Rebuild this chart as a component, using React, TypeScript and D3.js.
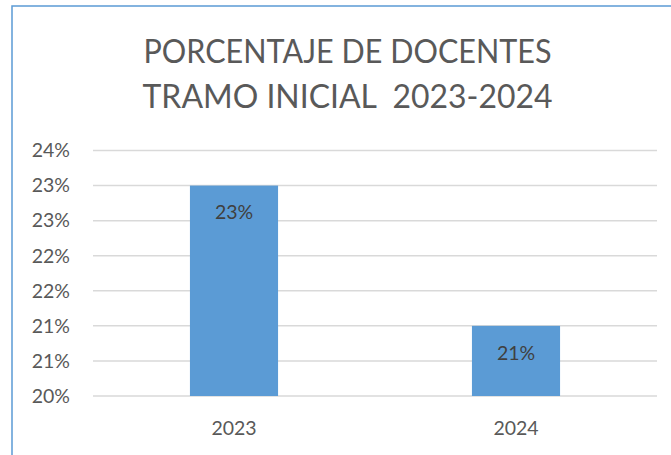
import React from "react";
import * as d3 from "d3";

const categories = ["2023", "2024"];
const values = [0.23, 0.21];
const dataLabels = ["23%", "21%"];
const tickValues = [0.2, 0.205, 0.21, 0.215, 0.22, 0.225, 0.23, 0.235];
const tickLabels = ["20%", "21%", "21%", "22%", "22%", "23%", "23%", "24%"];
const titleLines = ["PORCENTAJE DE DOCENTES", "TRAMO INICIAL  2023-2024"];
const titleWidths = [408, 410];

const W = 671;
const H = 455;
const plot = { left: 93, right: 657, top: 150.5, bottom: 396 };
const FONT = "Lato, 'Open Sans', sans-serif";
const TEXT = "#595959";
const BAR = "#5b9bd5";

export default function App() {
  const x = d3
    .scaleBand<string>()
    .domain(categories)
    .range([plot.left, plot.right])
    .paddingInner(0.6875)
    .paddingOuter(0.34375);
  const y = d3.scaleLinear().domain([0.2, 0.235]).range([plot.bottom, plot.top]);

  return (
    <svg
      width={W}
      height={H}
      style={{ position: "absolute", left: 0, top: 0, background: "#fff" }}
      fontFamily={FONT}
    >
      <rect x={0} y={0} width={W} height={H} fill="#fff" />
      <rect x={12} y={6} width={W + 50} height={H + 50} fill="none" stroke={BAR} strokeWidth={1.5} />
      {titleLines.map((t, i) => (
        <text
          key={i}
          x={347.5}
          y={63 + i * 45}
          textAnchor="middle"
          fontSize={32}
          fill={TEXT}
          textLength={titleWidths[i]}
          lengthAdjust="spacingAndGlyphs"
          style={{ whiteSpace: "pre" }}
        >
          {t}
        </text>
      ))}
      {tickValues.map((v, i) => (
        <g key={i}>
          <line x1={plot.left} x2={plot.right} y1={y(v)} y2={y(v)} stroke="#d9d9d9" strokeWidth={1.5} />
          <text x={70} y={y(v)} dy="0.35em" textAnchor="end" fontSize={19.5} fill={TEXT}>
            {tickLabels[i]}
          </text>
        </g>
      ))}
      {categories.map((c, i) => (
        <g key={c}>
          <rect
            x={x(c)}
            y={y(values[i])}
            width={x.bandwidth()}
            height={y(0.2) - y(values[i])}
            fill={BAR}
          />
          <text
            x={(x(c) as number) + x.bandwidth() / 2}
            y={y(values[i]) + 27}
            dy="0.35em"
            textAnchor="middle"
            fontSize={19.5}
            fill="#404040"
          >
            {dataLabels[i]}
          </text>
          <text
            x={(x(c) as number) + x.bandwidth() / 2}
            y={428}
            dy="0.35em"
            textAnchor="middle"
            fontSize={19.5}
            fill={TEXT}
          >
            {c}
          </text>
        </g>
      ))}
    </svg>
  );
}
